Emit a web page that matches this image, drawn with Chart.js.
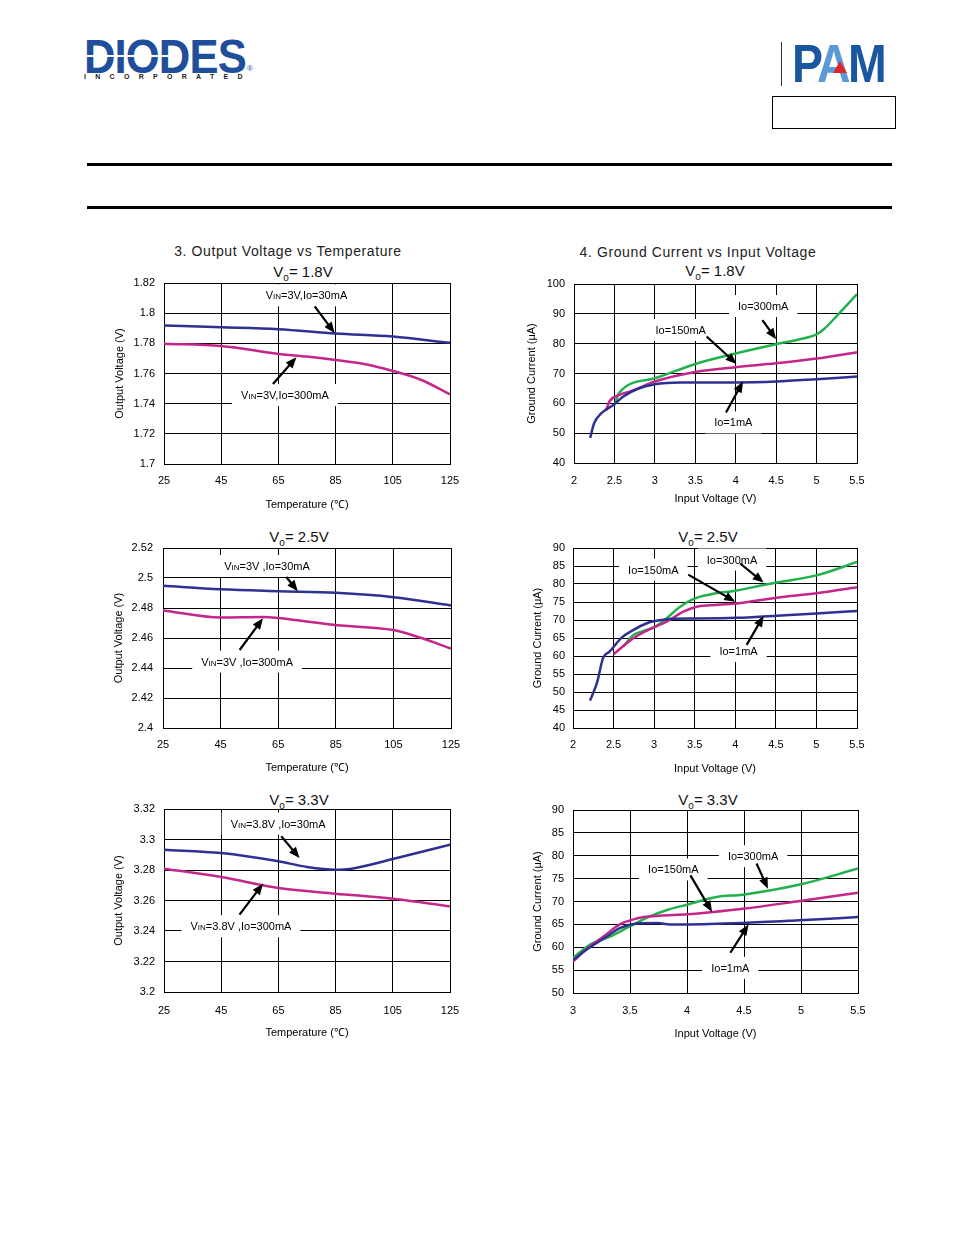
<!DOCTYPE html>
<html>
<head>
<meta charset="utf-8">
<script src="https://cdn.jsdelivr.net/npm/chart.js@4.4.1/dist/chart.umd.min.js"></script>
<style>
  body { margin: 0; background: #fff; font-family: "Liberation Sans", Arial, sans-serif; }
  #page { position: relative; width: 954px; height: 1235px; overflow: hidden; background: #fff; }
  .abs { position: absolute; }
  .ttl { position: absolute; width: 400px; text-align: center; font-size: 14px; letter-spacing: 0.6px; line-height: 18px; color: #222; }
  .vo { position: absolute; width: 200px; text-align: center; font-size: 15px; line-height: 18px; color: #111; }
  .vo .sub { font-size: 10px; position: relative; top: 4px; }
  .rule { position: absolute; left: 87px; width: 805px; height: 3px; background: #000; }
  canvas { position: absolute; }
</style>
</head>
<body>
<div id="page">
  <!-- Diodes logo -->
  <div class="abs" style="left:84px;top:28px;font:bold 49px 'Liberation Sans';line-height:56px;color:#1f4e9b;letter-spacing:-1px;transform:scaleX(0.89);transform-origin:0 0;">DIODES</div>
  <div class="abs" style="left:84px;top:55px;width:88px;height:2px;background:#fff;"></div>
  <div class="abs" style="left:84px;top:73px;font:bold 7px 'Liberation Sans';line-height:8px;letter-spacing:9.3px;color:#222;">INCORPORATED</div>
  <div class="abs" style="left:247px;top:64px;font:8px 'Liberation Sans';color:#1f4e9b;">®</div>

  <!-- PAM logo -->
  <div class="abs" style="left:781px;top:42px;width:1px;height:44px;background:#333;"></div>
  <div class="abs" style="left:792px;top:33px;font:bold 54px 'Liberation Sans';line-height:60px;letter-spacing:-3px;transform:scaleX(0.86);transform-origin:0 0;"><span style="color:#1b56a0">P</span><span style="color:#5b9bd5">A</span><span style="color:#1b56a0">M</span></div>
  <div class="abs" style="left:833px;top:61px;width:0;height:0;border-left:7px solid transparent;border-right:7px solid transparent;border-bottom:12px solid #e0242c;"></div>
  <div class="abs" style="left:772px;top:96px;width:124px;height:33px;border:1.5px solid #000;box-sizing:border-box;"></div>

  <div class="rule" style="top:163px;"></div>
  <div class="rule" style="top:206px;"></div>

  <div class="ttl" style="left:88px;top:242px;">3. Output Voltage vs Temperature</div>
  <div class="ttl" style="left:498px;top:243px;">4. Ground Current vs Input Voltage</div>

  <div class="vo" style="left:203px;top:263px;">V<span class="sub">o</span>= 1.8V</div>
  <div class="vo" style="left:615px;top:262px;">V<span class="sub">o</span>= 1.8V</div>
  <div class="vo" style="left:199px;top:528px;">V<span class="sub">o</span>= 2.5V</div>
  <div class="vo" style="left:608px;top:528px;">V<span class="sub">o</span>= 2.5V</div>
  <div class="vo" style="left:199px;top:791px;">V<span class="sub">o</span>= 3.3V</div>
  <div class="vo" style="left:608px;top:791px;">V<span class="sub">o</span>= 3.3V</div>
</div>

<script>
const FONT = '"Liberation Sans", Arial, sans-serif';
const BLUE = '#2e3192', MAGENTA = '#c4268c', GREEN = '#22b14c';

// Output voltage vs temperature, Vo = 1.8V
const temp18Lo = [25, 45, 65, 85, 105, 125];
const vout18Lo = [1.7918, 1.7907, 1.7894, 1.7865, 1.7845, 1.7803];
const temp18Hi = [25, 45, 65, 75, 85, 95, 105, 115, 125];
const vout18Hi = [1.7798, 1.7783, 1.7730, 1.7712, 1.7690, 1.7663, 1.7617, 1.7557, 1.7462];

// Output voltage vs temperature, Vo = 2.5V
const temp25Lo = [25, 45, 65, 85, 105, 125];
const vout25Lo = [2.4948, 2.4925, 2.4912, 2.4901, 2.4872, 2.4817];
const temp25Hi = [25, 45, 60, 65, 85, 105, 115, 125];
const vout25Hi = [2.4784, 2.4737, 2.4740, 2.4733, 2.4686, 2.4653, 2.4598, 2.4529];

// Output voltage vs temperature, Vo = 3.3V
const temp33Lo = [25, 45, 65, 75, 85, 90, 105, 125];
const vout33Lo = [3.2933, 3.2911, 3.2857, 3.2820, 3.2802, 3.2807, 3.2872, 3.2966];
const temp33Hi = [25, 45, 65, 85, 105, 125];
const vout33Hi = [3.2809, 3.2754, 3.2682, 3.2645, 3.2612, 3.2562];

// Ground current vs input voltage, Vo = 1.8V
const vin18_1mA = [2.2, 2.25, 2.34, 2.5, 2.61, 2.79, 3.0, 3.31, 4.0, 4.5, 5.0, 5.5];
const ig18_1mA = [48.4, 53.4, 56.7, 59.7, 62.3, 64.9, 66.4, 67.0, 67.0, 67.3, 68.1, 69.0];
const vin18_150mA = [2.395, 2.44, 2.57, 2.73, 3.0, 3.5, 4.0, 4.5, 5.0, 5.5];
const ig18_150mA = [57.5, 60.7, 62.9, 64.3, 67.3, 70.5, 72.1, 73.4, 75.0, 77.1];
const vin18_300mA = [2.51, 2.56, 3.0, 3.5, 4.0, 4.5, 4.79, 5.0, 5.1, 5.26, 5.5];
const ig18_300mA = [60.1, 63.6, 68.4, 73.2, 76.7, 79.8, 81.5, 83.1, 85.1, 89.6, 96.6];

// Ground current vs input voltage, Vo = 2.5V
const vin25_1mA = [2.21, 2.3, 2.37, 2.45, 2.6, 2.74, 2.91, 3.01, 3.19, 3.52, 4.02, 4.51, 5.0, 5.5];
const ig25_1mA = [47.6, 52.9, 59.4, 61.2, 65.1, 67.2, 69.1, 69.7, 70.3, 70.4, 70.6, 71.2, 71.8, 72.5];
const vin25_150mA = [2.5, 2.74, 3.01, 3.15, 3.36, 3.52, 3.69, 4.02, 4.51, 5.0, 5.5];
const ig25_150mA = [60.5, 64.9, 68.1, 69.5, 72.3, 73.7, 74.1, 74.6, 76.2, 77.4, 79.1];
const vin25_300mA = [2.62, 2.74, 2.86, 3.01, 3.15, 3.32, 3.48, 3.69, 4.02, 4.35, 4.51, 5.0, 5.5];
const ig25_300mA = [62.6, 65.8, 66.9, 68.1, 70.4, 73.7, 75.8, 77.1, 78.2, 79.7, 80.4, 82.4, 86.1];

// Ground current vs input voltage, Vo = 3.3V
const vin33_1mA = [3.0, 3.12, 3.3, 3.41, 3.56, 3.74, 3.85, 4.0, 4.49, 4.99, 5.5];
const ig33_1mA = [57.2, 59.5, 62.4, 64.2, 65.2, 65.3, 65.0, 65.0, 65.3, 65.9, 66.6];
const vin33_150mA = [3.0, 3.12, 3.27, 3.41, 3.53, 3.62, 3.76, 4.0, 4.23, 4.49, 4.99, 5.5];
const ig33_150mA = [56.9, 59.6, 62.4, 65.0, 66.1, 66.6, 66.9, 67.2, 67.7, 68.4, 70.1, 71.9];
const vin33_300mA = [3.0, 3.15, 3.33, 3.5, 3.68, 3.82, 4.0, 4.26, 4.49, 4.99, 5.5];
const ig33_300mA = [57.7, 60.6, 62.4, 64.6, 66.8, 68.1, 69.3, 71.0, 71.5, 73.7, 77.2];

// Callout labels and arrows, in data units
const notes18 = [
  { label: 'VIN=3V,Io=30mA', at: [74.8, 1.8118], from: [77.7, 1.8045], to: [84.65, 1.7868] },
  { label: 'VIN=3V,Io=300mA', at: [67.3, 1.7457], from: [63.1, 1.7531], to: [71.3, 1.7708] }
];
const notes25 = [
  { label: 'VIN=3V ,Io=30mA', at: [61.1, 2.508], from: [67.8, 2.5007], to: [71.8, 2.4912] },
  { label: 'VIN=3V ,Io=300mA', at: [54.2, 2.4443], from: [51.6, 2.452], to: [59.7, 2.4731] }
];
const notes33 = [
  { label: 'VIN=3.8V ,Io=30mA', at: [64.9, 3.3104], from: [66.0, 3.3021], to: [72.4, 3.2879] },
  { label: 'VIN=3.8V ,Io=300mA', at: [51.9, 3.2431], from: [51.4, 3.2507], to: [59.6, 3.2710] }
];
const notesIg18 = [
  { label: 'Io=300mA', at: [4.34, 92.6], from: [4.33, 87.9], to: [4.50, 81.5] },
  { label: 'Io=150mA', at: [3.32, 84.6], from: [3.64, 82.4], to: [4.01, 73.2] },
  { label: 'Io=1mA', at: [3.97, 53.6], from: [3.88, 56.9], to: [4.09, 67.3] }
];
const notesIg25 = [
  { label: 'Io=300mA', at: [3.96, 86.8], from: [4.06, 85.7], to: [4.35, 80.4] },
  { label: 'Io=150mA', at: [2.99, 84.0], from: [3.42, 82.6], to: [4.0, 75.1] },
  { label: 'Io=1mA', at: [4.04, 61.4], from: [4.14, 63.1], to: [4.35, 71.2] }
];
const notesIg33 = [
  { label: 'Io=300mA', at: [4.58, 79.9], from: [4.61, 78.3], to: [4.71, 72.8] },
  { label: 'Io=150mA', at: [3.88, 77.0], from: [4.03, 75.7], to: [4.22, 67.7] },
  { label: 'Io=1mA', at: [4.38, 55.5], from: [4.38, 58.8], to: [4.54, 65.0] }
];

Chart.defaults.font.family = FONT;
Chart.defaults.color = '#000';

// room above / right of the plot, larger than the scales' own label padding
const PAD_TOP = 22, PAD_RIGHT = 26;

function curve(xs, ys, color) {
  return {
    data: xs.map((x, i) => ({ x: x, y: ys[i] })),
    borderColor: color,
    borderWidth: 2.5,
    pointRadius: 0,
    cubicInterpolationMode: 'monotone',
    fill: false
  };
}

function splitLabel(text) {
  if (text.startsWith('VIN')) return [['V', 11], ['IN', 8], [text.slice(3), 11]];
  return [[text, 11]];
}

function notesPlugin(items) {
  return {
    id: 'notes',
    beforeDatasetsDraw(chart) {
      const { ctx, scales: { x, y } } = chart;
      items.forEach(n => {
        const parts = splitLabel(n.label);
        ctx.save();
        let w = 0;
        parts.forEach(p => { ctx.font = p[1] + 'px ' + FONT; p.w = ctx.measureText(p[0]).width; w += p.w; });
        const cx = x.getPixelForValue(n.at[0]);
        const cy = y.getPixelForValue(n.at[1]);
        ctx.fillStyle = '#fff';
        ctx.fillRect(cx - w / 2 - 9, cy - 11, w + 18, 22);
        ctx.fillStyle = '#000';
        ctx.textBaseline = 'alphabetic';
        let px = cx - w / 2;
        parts.forEach(p => { ctx.font = p[1] + 'px ' + FONT; ctx.fillText(p[0], px, cy + 4); px += p.w; });
        ctx.restore();
      });
    },
    afterDatasetsDraw(chart) {
      const { ctx, scales: { x, y } } = chart;
      items.forEach(n => {
        const x1 = x.getPixelForValue(n.from[0]), y1 = y.getPixelForValue(n.from[1]);
        const x2 = x.getPixelForValue(n.to[0]), y2 = y.getPixelForValue(n.to[1]);
        const a = Math.atan2(y2 - y1, x2 - x1), c = Math.cos(a), s = Math.sin(a);
        ctx.save();
        ctx.strokeStyle = '#000';
        ctx.fillStyle = '#000';
        ctx.lineWidth = 2.2;
        ctx.beginPath();
        ctx.moveTo(x1, y1);
        ctx.lineTo(x2 - 8 * c, y2 - 8 * s);
        ctx.stroke();
        ctx.beginPath();
        ctx.moveTo(x2, y2);
        ctx.lineTo(x2 - 11 * c + 4.5 * s, y2 - 11 * s - 4.5 * c);
        ctx.lineTo(x2 - 11 * c - 4.5 * s, y2 - 11 * s + 4.5 * c);
        ctx.closePath();
        ctx.fill();
        ctx.restore();
      });
    }
  };
}

function axis(min, max, step, title, pad, size, isX) {
  return {
    type: 'linear',
    min: min,
    max: max,
    ticks: {
      stepSize: step,
      padding: pad,
      color: '#000',
      font: { size: 11 },
      maxRotation: 0,
      autoSkip: false,
      callback: v => String(+v.toFixed(2))
    },
    grid: { color: '#000', lineWidth: 1, drawTicks: false },
    border: { color: '#000', width: 1 },
    title: {
      display: true,
      text: title,
      color: '#000',
      font: { size: 11 },
      padding: isX ? { top: 0, bottom: 3.4 } : { top: 3.4, bottom: 0 }
    },
    afterFit: scale => { if (isX) scale.height = size; else scale.width = size; }
  };
}

// box: plot area edges, centre of y title, centre of x labels / x title (page px)
function makeChart(box, series, xr, yr, xTitle, yTitle, notes) {
  const left = Math.round(box.yTitle - 10);
  const top = box.t - PAD_TOP;
  const width = box.r + PAD_RIGHT - left;
  const height = Math.round(box.xTitle + 10) - top;
  const canvas = document.createElement('canvas');
  canvas.width = width;
  canvas.height = height;
  canvas.style.left = left + 'px';
  canvas.style.top = top + 'px';
  canvas.style.width = width + 'px';
  canvas.style.height = height + 'px';
  document.getElementById('page').appendChild(canvas);

  new Chart(canvas.getContext('2d'), {
    type: 'line',
    data: { datasets: series },
    options: {
      responsive: false,
      animation: false,
      layout: { padding: { top: PAD_TOP, right: PAD_RIGHT, bottom: 0, left: 0 } },
      scales: {
        x: axis(xr[0], xr[1], xr[2], xTitle, box.xLabel - box.b - 6.6, Math.round(box.xTitle + 10) - box.b, true),
        y: axis(yr[0], yr[1], yr[2], yTitle, box.yPad, box.l - left, false)
      },
      plugins: {
        legend: { display: false },
        tooltip: { enabled: false }
      }
    },
    plugins: [notesPlugin(notes)]
  });
}

const TEMP_T = 'Temperature (\u2103)';
const VOUT_T = 'Output Voltage (V)';
const VIN_T = 'Input Voltage (V)';
const IG_T = 'Ground Current (\u03bcA)';

makeChart({ l: 164, t: 283, r: 450, b: 464, yTitle: 120, xLabel: 481, xTitle: 504.5, yPad: 9 },
  [curve(temp18Lo, vout18Lo, BLUE), curve(temp18Hi, vout18Hi, MAGENTA)],
  [25, 125, 20], [1.7, 1.82, 0.02], TEMP_T, VOUT_T, notes18);

makeChart({ l: 574, t: 284, r: 857, b: 463, yTitle: 531.5, xLabel: 480.7, xTitle: 498.5, yPad: 9 },
  [curve(vin18_1mA, ig18_1mA, BLUE), curve(vin18_150mA, ig18_150mA, MAGENTA), curve(vin18_300mA, ig18_300mA, GREEN)],
  [2, 5.5, 0.5], [40, 100, 10], VIN_T, IG_T, notesIg18);

makeChart({ l: 163, t: 548, r: 451, b: 728, yTitle: 118.5, xLabel: 745, xTitle: 768, yPad: 10 },
  [curve(temp25Lo, vout25Lo, BLUE), curve(temp25Hi, vout25Hi, MAGENTA)],
  [25, 125, 20], [2.4, 2.52, 0.02], TEMP_T, VOUT_T, notes25);

makeChart({ l: 573, t: 548, r: 857, b: 728, yTitle: 538, xLabel: 745, xTitle: 768.5, yPad: 8 },
  [curve(vin25_1mA, ig25_1mA, BLUE), curve(vin25_150mA, ig25_150mA, MAGENTA), curve(vin25_300mA, ig25_300mA, GREEN)],
  [2, 5.5, 0.5], [40, 90, 5], VIN_T, IG_T, notesIg25);

makeChart({ l: 164, t: 809, r: 450, b: 992, yTitle: 118.5, xLabel: 1010.5, xTitle: 1032.5, yPad: 9 },
  [curve(temp33Lo, vout33Lo, BLUE), curve(temp33Hi, vout33Hi, MAGENTA)],
  [25, 125, 20], [3.2, 3.32, 0.02], TEMP_T, VOUT_T, notes33);

makeChart({ l: 573, t: 810, r: 858, b: 993, yTitle: 538, xLabel: 1011, xTitle: 1034, yPad: 9 },
  [curve(vin33_1mA, ig33_1mA, BLUE), curve(vin33_150mA, ig33_150mA, MAGENTA), curve(vin33_300mA, ig33_300mA, GREEN)],
  [3, 5.5, 0.5], [50, 90, 5], VIN_T, IG_T, notesIg33);
</script>
</body>
</html>
